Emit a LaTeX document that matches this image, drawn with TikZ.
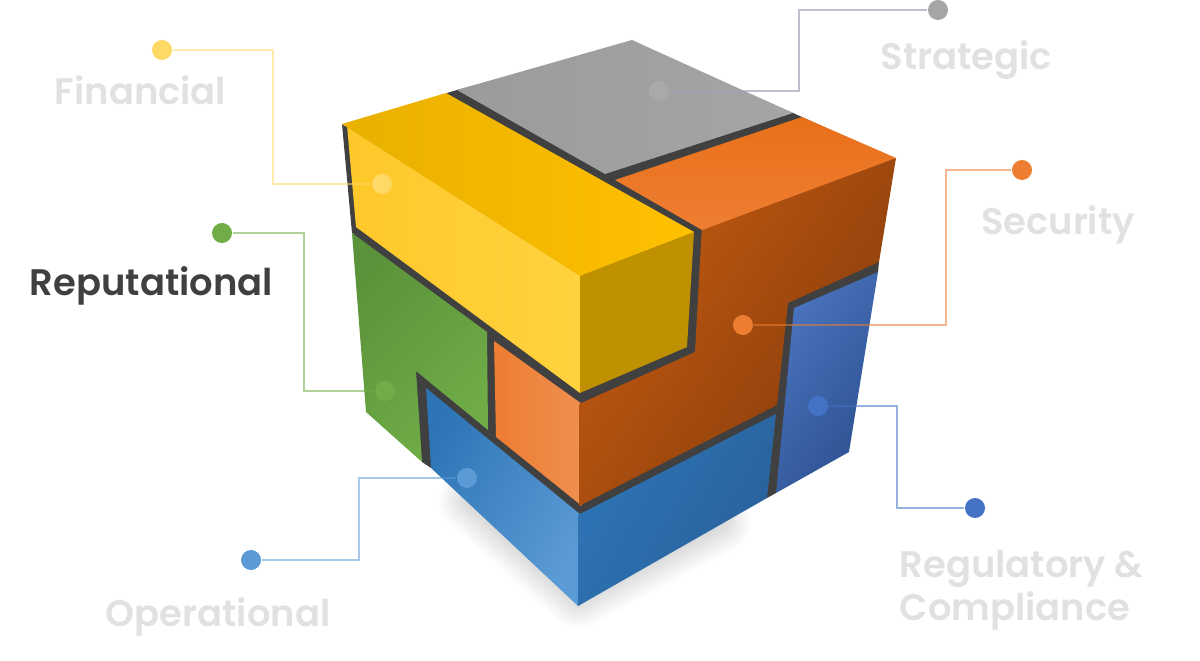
\documentclass[tikz,border=0pt]{standalone}
\usepackage{fontspec}
\newfontfamily\labelfont{Poppins SemiBold}

\definecolor{darkline}{HTML}{404040}
\definecolor{textgrey}{HTML}{E1E1E1}
\definecolor{yellowdot}{HTML}{FFD966}
\definecolor{greendot}{HTML}{70AD47}
\definecolor{bluedot}{HTML}{5B9BD5}
\definecolor{greydot}{HTML}{A5A5A5}
\definecolor{orangedot}{HTML}{ED7D31}
\definecolor{navydot}{HTML}{4472C4}
\definecolor{strategicline}{HTML}{A2A4B6}
% Flaechen
\definecolor{yellowfronta}{HTML}{FFC82A}
\definecolor{yellowfrontb}{HTML}{FFD23F}
\definecolor{yellowside}{HTML}{BF9000}
\definecolor{yellowtopa}{HTML}{E8B000}
\definecolor{yellowtopb}{HTML}{FFC000}
\definecolor{orangefrontb}{HTML}{F08F50}
\definecolor{orangesidea}{HTML}{C55A11}
\definecolor{orangesideb}{HTML}{843C0C}
\definecolor{orangetopa}{HTML}{E8701A}
\definecolor{orangetopb}{HTML}{EE7E32}
\definecolor{bluefronta}{HTML}{2E75B6}
\definecolor{bluesideb}{HTML}{28609A}
\definecolor{navya}{HTML}{4A74BE}
\definecolor{navyb}{HTML}{2D5090}
\definecolor{greena}{HTML}{5B933A}
\definecolor{greytopa}{HTML}{9B9B9B}

\tikzset{
  dot/.style={circle,fill=#1,minimum size=.2cm,inner sep=0pt},
  link/.style={draw=#1,line width=.35pt,draw opacity=.55},
  risklabel/.style={font=\labelfont\fontsize{10.5}{12.3}\selectfont,text=textgrey,align=left,inner sep=0pt},
  flat/.style n args={3}{left color=#1,right color=#2,shading angle=#3}
}

\begin{document}
\begin{tikzpicture}[x=.01cm,y=-.01cm]
\useasboundingbox (0,0) rectangle (1200,661);

% Schatten
\foreach \w in {2,5,...,62}{
  \fill[black,opacity=.008,draw=black,draw opacity=.008,line width=\w*.01cm,line join=round]
    (470,500) -- (578,597) -- (720,522) -- (600,480) -- cycle;
}

% Wuerfel
\fill[darkline] (342,124) -- (344,126) -- (447,95) -- (447,93) -- (457,90) -- (632,43) -- (793,113) -- (802,117)
  -- (893,159) -- (877,262) -- (879,262) -- (878,272) -- (876,274) -- (847,450) -- (776,491) -- (776,493) -- (767,498)
  -- (767,496) -- (578,603) -- (432,468) -- (431,468) -- (422,462) -- (422,460) -- (368,411) -- (354,234) -- (352,233) -- cycle;

% Gelb
\shade[flat={yellowfronta}{yellowfrontb}{90}] (347,125) -- (356,227) -- (580,393) -- (585,276) -- cycle;
\fill[yellowside] (580,276) -- (694,232) -- (687,347) -- (580,393) -- cycle;

% Orange
\shade[flat={orangedot}{orangefrontb}{90}] (494,341) -- (582,404) -- (582,506) -- (496,437) -- cycle;
\shade[flat={orangesidea}{orangesideb}{55}] (702,225) -- (896,158) -- (879,262) -- (788,303) -- (777,405) -- (579,506) -- (579,404) -- (695,352) -- cycle;

% Blau
\shade[flat={bluefronta}{bluedot}{60}] (426,388) -- (581,515) -- (581,604) -- (578,606) -- (431,468) -- cycle;
\shade[flat={bluefronta}{bluesideb}{60}] (578,515) -- (776,414) -- (767,498) -- (578,606) -- cycle;
\shade[flat={navya}{navyb}{55}] (794,308) -- (878,272) -- (849,452) -- (776,493) -- cycle;

% Gruen
\shade[flat={greena}{greendot}{45}] (352,233) -- (487,332) -- (488,430) -- (416,371) -- (422,462) -- (366,412) -- cycle;

% oben
\shade[flat={greytopa}{greydot}{90}] (457,90) -- (632,40) -- (793,113) -- (605,174) -- cycle;
\shade[flat={orangetopa}{orangetopb}{0}] (615,180) -- (802,117) -- (896,158) -- (702,230) -- cycle;
\shade[flat={yellowtopa}{yellowtopb}{90}] (342,124) -- (446,93) -- (694,232) -- (580,276) -- cycle;

% Punkte
\node[dot=yellowdot] (financialdot) at (162,50) {};
\node[dot=yellowdot] (financialin) at (382,184) {};
\node[dot=greendot] (reputationaldot) at (222,233) {};
\node[dot=greendot] (reputationalin) at (385,391) {};
\node[dot=bluedot] (operationaldot) at (251,560) {};
\node[dot=bluedot] (operationalin) at (467,478) {};
\node[dot=greydot] (strategicdot) at (938,10) {};
\node[dot=greydot!96!white] (strategicin) at (659,91) {};
\node[dot=orangedot] (securitydot) at (1022,170) {};
\node[dot=orangedot] (securityin) at (743,325) {};
\node[dot=navydot] (regulatorydot) at (975,508) {};
\node[dot=navydot] (regulatoryin) at (818,406) {};

% Knicke
\coordinate (financialbend) at (273,184);
\coordinate (reputationalbend) at (304,391);
\coordinate (operationalbend) at (359,478);
\coordinate (strategicbend) at (799,91);
\coordinate (securitybend) at (946,325);
\coordinate (regulatorybend) at (897,406);

% Linien
\draw[link=yellowdot] (financialdot) -| (financialbend) -- (financialin);
\draw[link=greendot] (reputationaldot) -| (reputationalbend) -- (reputationalin);
\draw[link=bluedot] (operationaldot) -| (operationalbend) -- (operationalin);
\draw[link=strategicline,draw opacity=.7] (strategicdot) -| (strategicbend) -- (strategicin);
\draw[link=orangedot] (securitydot) -| (securitybend) -- (securityin);
\draw[link=navydot] (regulatorydot) -| (regulatorybend) -- (regulatoryin);

% Texte
\node[risklabel] (financial) at (140.5,90) {Financial};
\node[risklabel,text=darkline] (reputational) at (151.5,286) {Reputational};
\node[risklabel] (operational) at (218,617) {Operational};
\node[risklabel] (strategic) at (966.5,60) {Strategic};
\node[risklabel] (security) at (1058,225) {Security};
\node[risklabel,anchor=west] (regulatory) at (899,590) {Regulatory \&\\Compliance};

\end{tikzpicture}
\end{document}
